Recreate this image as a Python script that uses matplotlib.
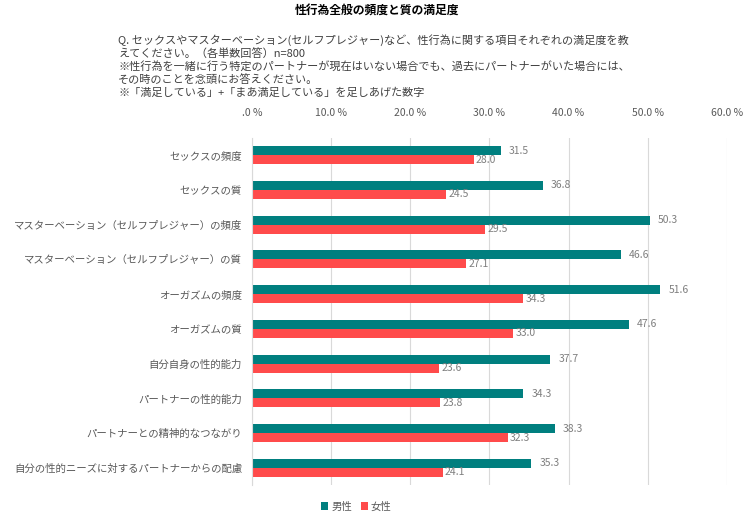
import numpy as np
import matplotlib
matplotlib.use("Agg")
import matplotlib.pyplot as plt

plt.rcParams['font.family'] = ['Noto Sans CJK JP', 'DejaVu Sans']

categories = ['セックスの頻度', 'セックスの質',
              'マスターベーション（セルフプレジャー）の頻度',
              'マスターベーション（セルフプレジャー）の質',
              'オーガズムの頻度', 'オーガズムの質', '自分自身の性的能力',
              'パートナーの性的能力', 'パートナーとの精神的なつながり',
              '自分の性的ニーズに対するパートナーからの配慮']
male = [31.5, 36.8, 50.3, 46.6, 51.6, 47.6, 37.7, 34.3, 38.3, 35.3]
female = [28.0, 24.5, 29.5, 27.1, 34.3, 33.0, 23.6, 23.8, 32.3, 24.1]
ticks = [0, 10, 20, 30, 40, 50, 60]
tick_labels = ['.0 %', '10.0 %', '20.0 %', '30.0 %', '40.0 %', '50.0 %', '60.0 %']

teal = '#007F7F'
red = '#FF4B4B'
gray = '#595959'

fig = plt.figure(figsize=(7.54, 5.24), dpi=100)
ax = fig.add_axes([0.334, 0.074, 0.63, 0.663])

y = np.arange(len(categories))
h = 0.26
ax.barh(y - h / 2, male, height=h, color=teal, label='男性')
ax.barh(y + h / 2, female, height=h, color=red, label='女性')

for yi, m, f in zip(y, male, female):
    ax.text(m + 1.0, yi - h / 2, f'{m:.1f}', va='center', ha='left', fontsize=7.5, color='#7f7f7f')
    ax.text(f + 0.3, yi + h / 2, f'{f:.1f}', va='center', ha='left', fontsize=7.5, color='#7f7f7f')

ax.set_xlim(0, 60)
ax.set_ylim(len(categories) - 0.5, -0.5)
ax.set_yticks(y)
ax.set_yticklabels(categories, fontsize=7.5, color=gray)
ax.set_xticks(ticks)
ax.set_xticklabels(tick_labels, fontsize=7.5, color=gray)
ax.xaxis.tick_top()
ax.tick_params(axis='both', length=0)
ax.tick_params(axis='x', pad=14)
ax.tick_params(axis='y', pad=7)
ax.grid(axis='x', color='#d9d9d9', lw=0.8)
ax.set_axisbelow(True)
for s in ['top', 'right', 'bottom']:
    ax.spines[s].set_visible(False)
ax.spines['left'].set_color('#d9d9d9')

fig.text(0.5, 0.978, '性行為全般の頻度と質の満足度', ha='center', va='center',
         fontsize=8.5, fontweight='bold')
note = ('Q. セックスやマスターベーション(セルフプレジャー)など、性行為に関する項目それぞれの満足度を教\n'
        'えてください。（各単数回答）n=800\n'
        '※性行為を一緒に行う特定のパートナーが現在はいない場合でも、過去にパートナーがいた場合には、\n'
        'その時のことを念頭にお答えください。\n'
        '※「満足している」+「まあ満足している」を足しあげた数字')
fig.text(0.157, 0.935, note, ha='left', va='top', fontsize=8, color='#404040', linespacing=1.25)

ax.legend(loc='upper center', bbox_to_anchor=(0.22, -0.02), ncol=2, frameon=False,
          fontsize=7.5, handlelength=0.7, handleheight=0.7, columnspacing=0.8,
          handletextpad=0.3, labelcolor=gray)

fig.savefig('out.png', dpi=100)
